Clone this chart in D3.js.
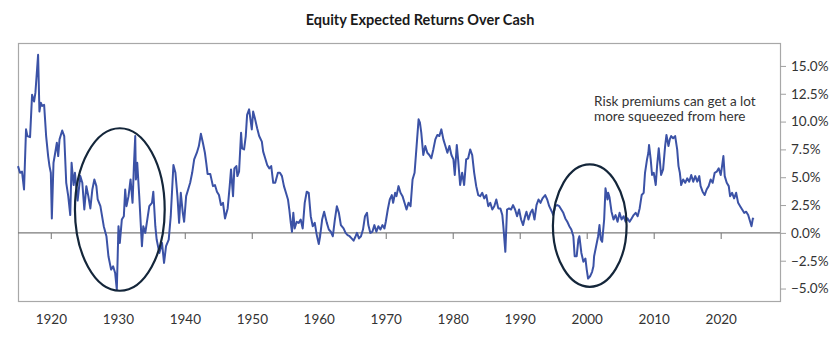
<!DOCTYPE html>
<html>
<head>
<meta charset="utf-8">
<script src="https://cdn.jsdelivr.net/npm/d3@7"></script>
<style>
  html, body { margin: 0; padding: 0; background: #fff; }
  svg { display: block; }
  .axis text { font-family: Lato, "Open Sans", sans-serif; font-size: 13.5px; fill: #333; }
</style>
</head>
<body>
<svg id="chart" width="840" height="338"></svg>
<script>
// Equity expected return over cash, % (decimal year, value)
const years = [
  1915.1,1915.4,1915.7,1916.0,1916.3,1916.5,1916.9,1917.2,1917.5,1917.7,1918.1,1918.3,1918.5,1918.7,1919.0,1919.3,1919.6,1919.8,
  1920.0,1920.15,1920.4,1920.6,1920.9,1921.1,1921.3,1921.7,1922.0,1922.3,1922.6,1922.9,1923.1,1923.4,1923.6,1924.0,1924.4,1924.7,
  1925.0,1925.3,1925.6,1925.9,1926.2,1926.5,1926.8,1927.0,1927.4,1927.9,1928.3,1928.6,1929.0,1929.3,1929.6,1929.85,
  1930.1,1930.3,1930.6,1930.9,1931.1,1931.3,1931.6,1931.9,1932.2,1932.4,1932.6,1932.7,1932.9,1933.2,1933.6,1933.8,1934.1,1934.4,1934.7,
  1935.1,1935.3,1935.6,1935.8,1936.2,1936.6,1936.9,1937.2,1937.6,1937.9,1938.3,1938.6,1938.9,1939.15,1939.4,1939.7,1939.9,
  1940.2,1940.5,1940.8,1941.1,1941.4,1941.8,1942.1,1942.4,1942.7,1943.0,1943.2,1943.4,1943.8,1944.2,1944.5,1944.8,
  1945.1,1945.4,1945.7,1946.0,1946.4,1946.7,1946.9,1947.2,1947.4,1947.7,1947.85,1948.1,1948.4,1948.55,1948.85,1949.1,1949.3,1949.6,
  1950.0,1950.2,1950.5,1950.8,1951.1,1951.5,1951.7,1952.0,1952.3,1952.6,1952.9,1953.2,1953.5,1953.9,1954.2,1954.5,1954.8,
  1955.1,1955.4,1955.6,1955.8,1956.0,1956.2,1956.4,1956.7,1957.0,1957.3,1957.6,1957.9,1958.2,1958.5,1958.8,1959.1,1959.4,1959.7,
  1960.0,1960.2,1960.5,1960.8,1961.2,1961.5,1961.8,1962.1,1962.4,1962.7,1963.0,1963.3,1963.7,1964.0,1964.3,1964.6,1964.9,
  1965.2,1965.5,1965.7,1966.0,1966.3,1966.6,1966.9,1967.2,1967.4,1967.7,1968.0,1968.3,1968.6,1968.9,1969.2,1969.5,1969.8,
  1970.0,1970.3,1970.6,1970.9,1971.1,1971.4,1971.6,1971.9,1972.2,1972.5,1972.8,1973.1,1973.4,1973.7,1974.0,1974.3,1974.6,1974.9,
  1975.1,1975.3,1975.6,1975.9,1976.2,1976.5,1976.8,1977.1,1977.4,1977.7,1978.0,1978.3,1978.6,1978.9,1979.2,1979.5,1979.8,
  1980.1,1980.3,1980.6,1980.8,1981.1,1981.4,1981.7,1982.0,1982.3,1982.6,1982.9,1983.2,1983.5,1983.8,1984.1,1984.4,1984.7,
  1985.0,1985.3,1985.6,1985.9,1986.2,1986.5,1986.8,1987.1,1987.4,1987.55,1987.85,1988.1,1988.4,1988.7,1989.0,1989.3,1989.6,1989.9,
  1990.2,1990.5,1990.8,1991.0,1991.3,1991.6,1991.9,1992.2,1992.5,1992.8,1993.1,1993.4,1993.8,1994.1,1994.4,1994.8,
  1995.0,1995.3,1995.6,1995.9,1996.2,1996.5,1996.8,1997.1,1997.4,1997.7,1998.0,1998.2,1998.5,1998.75,1998.9,1999.2,1999.5,1999.8,
  2000.0,2000.2,2000.5,2000.8,2001.0,2001.1,2001.4,2001.7,2001.9,2002.1,2002.3,2002.6,2002.8,2003.1,2003.2,2003.4,2003.7,2004.0,2004.3,2004.6,2004.9,
  2005.2,2005.5,2005.8,2006.1,2006.4,2006.7,2007.0,2007.3,2007.6,2007.9,2008.2,2008.5,2008.7,2009.0,2009.2,2009.3,2009.55,2009.75,
  2010.0,2010.3,2010.5,2010.75,2010.9,2011.1,2011.4,2011.7,2011.9,2012.2,2012.4,2012.6,2012.9,2013.2,2013.5,2013.7,2013.9,2014.1,2014.4,2014.7,
  2015.0,2015.3,2015.6,2015.9,2016.2,2016.5,2016.8,2017.0,2017.3,2017.6,2017.9,2018.2,2018.5,2018.8,2019.1,2019.4,2019.7,
  2020.0,2020.2,2020.4,2020.6,2020.9,2021.2,2021.4,2021.7,2022.0,2022.3,2022.6,2022.9,2023.2,2023.5,2023.8,2024.1,2024.4,2024.6,2024.8,2024.9
];
const premium = [
  6.0,5.4,5.5,3.9,9.3,8.7,8.6,12.4,11.8,12.6,16.0,10.9,11.7,11.4,11.5,8.7,6.9,6.0,
  5.4,1.3,6.3,7.0,8.1,6.9,8.4,9.2,8.7,4.5,3.3,1.6,6.3,4.3,5.4,2.9,5.1,4.5,
  2.1,4.2,3.3,2.2,3.9,4.8,4.2,3.0,2.4,0.6,-0.3,-2.1,-3.3,-3.0,-3.6,-5.1,
  0.6,-0.9,1.2,1.5,3.9,2.4,3.3,4.8,2.7,6.0,8.7,4.8,6.3,3.3,-1.2,0.6,0.0,1.2,2.4,
  2.7,3.7,0.6,-0.6,-1.8,-0.9,-2.7,-1.2,-0.6,1.5,6.1,5.4,3.3,0.9,3.6,1.8,1.0,
  3.3,3.9,4.5,5.4,6.6,7.2,7.8,8.9,8.1,7.2,6.3,5.3,5.3,4.2,4.3,3.7,
  3.4,2.5,2.7,1.3,2.2,4.2,5.7,3.3,5.8,6.0,5.1,5.5,9.0,7.6,7.5,8.7,10.6,11.1,
  9.3,10.9,10.2,9.4,8.7,8.2,7.3,6.7,6.1,5.8,6.0,4.5,4.5,5.4,5.4,5.1,4.2,
  3.6,3.0,2.1,1.0,0.1,1.8,0.4,1.0,0.9,1.2,0.4,2.7,3.7,3.6,1.5,0.6,0.9,-0.2,
  -1.0,-0.3,1.2,1.9,0.9,0.3,0.1,-0.3,1.2,2.4,1.8,0.7,0.4,0.0,-0.2,-0.3,-0.5,
  -0.7,-0.3,0.0,-0.5,-0.3,0.3,1.5,1.8,0.7,0.0,0.1,0.7,0.1,0.6,0.3,0.7,0.4,
  1.0,2.1,3.0,3.4,2.7,3.6,3.3,4.2,3.6,3.3,2.7,2.1,2.7,2.4,4.8,5.4,7.8,10.2,
  9.9,9.0,7.0,7.8,7.2,7.0,6.7,7.5,8.4,8.8,8.7,9.3,8.4,7.8,7.2,7.8,7.0,
  6.6,5.2,7.9,6.6,4.3,5.4,4.3,6.6,6.7,7.5,7.0,5.4,4.2,3.4,3.3,3.6,3.1,
  3.4,2.4,2.7,2.1,2.4,3.0,2.2,2.2,1.6,0.6,-1.7,2.1,2.2,2.1,2.5,2.1,1.5,2.1,
  1.2,0.7,1.5,1.9,1.2,1.8,2.1,1.2,2.5,3.0,2.7,3.1,3.4,3.0,2.4,1.9,
  1.6,2.4,2.5,2.4,2.1,1.8,1.3,1.0,0.6,0.3,-0.3,-2.1,-2.1,-0.6,-0.3,-1.8,-2.6,-2.3,
  -3.3,-4.1,-3.9,-3.5,-3.0,-2.1,-1.2,-0.3,0.7,-0.6,-0.8,1.2,4.0,3.0,3.6,3.2,1.9,1.2,1.6,1.0,1.8,
  1.2,1.5,1.0,1.3,1.0,1.3,1.6,1.8,1.5,2.2,3.4,3.6,5.4,6.6,7.2,7.9,6.6,5.2,
  5.4,4.3,6.0,7.6,6.6,5.2,5.7,7.8,8.8,7.8,8.4,8.7,8.5,8.7,7.5,6.0,5.4,4.3,4.8,4.5,
  4.9,4.6,5.2,4.6,5.1,4.6,5.1,4.2,3.7,3.4,3.9,4.2,4.8,4.5,5.4,5.5,5.8,
  5.2,6.0,6.9,5.1,4.5,4.2,3.3,3.6,3.1,3.6,2.7,2.4,2.1,1.8,1.9,1.6,1.0,0.6,1.3,1.2
];
const decadeTicks = [1920, 1930, 1940, 1950, 1960, 1970, 1980, 1990, 2000, 2010, 2020];
const pctTicks = [-5, -2.5, 0, 2.5, 5, 7.5, 10, 12.5, 15];

// Highlighted episodes: centre (year, %) and half extents (years, %)
const episodeYears = [1930.3, 2000.45];
const episodeValues = [2.1, 0.65];
const episodeSpanYears = [6.7, 5.5];
const episodeSpanValues = [7.3, 5.5];

const noteLines = ["Risk premiums can get a lot", "more squeezed from here"];
const noteAnchor = { year: 2001.1, value: 11.4 };

const svg = d3.select("#chart");
const plot = { left: 18, right: 780, top: 43, bottom: 301 };

const x = d3.scaleLinear().domain([1915.1, 2028.85]).range([plot.left, plot.right]);
const y = d3.scaleLinear().domain([-6.12, 17.06]).range([plot.bottom, plot.top]);

// title
svg.append("text")
  .attr("x", 420).attr("y", 25)
  .attr("text-anchor", "middle")
  .style("font-family", "Lato, 'Open Sans', sans-serif")
  .style("font-weight", 700)
  .style("font-size", "14.5px")
  .style("fill", "#1a1a1a")
  .text("Equity Expected Returns Over Cash");

// plot frame
svg.append("rect")
  .attr("x", plot.left + 0.5).attr("y", plot.top + 0.5)
  .attr("width", plot.right - plot.left).attr("height", plot.bottom - plot.top)
  .attr("fill", "none").attr("stroke", "#a8a8a8").attr("stroke-width", 1.2);

// right value axis
const yAxis = svg.append("g").attr("class", "axis")
  .attr("transform", `translate(${plot.right},0)`)
  .call(d3.axisRight(y).tickValues(pctTicks)
    .tickFormat(d => d3.format(".1%")(d / 100)).tickSize(6).tickPadding(5));
yAxis.select(".domain").remove();
yAxis.selectAll(".tick line").attr("stroke", "#a0a0a0");

// zero baseline with decade ticks hanging below it
const zeroAxis = svg.append("g")
  .attr("transform", `translate(0,${y(0)})`)
  .call(d3.axisBottom(x).tickValues(decadeTicks).tickFormat("").tickSize(6).tickSizeOuter(0));
zeroAxis.select(".domain").remove();
zeroAxis.selectAll(".tick line").attr("stroke", "#8a8a8a").attr("stroke-width", 1.2);

svg.append("line")
  .attr("x1", plot.left).attr("x2", plot.right)
  .attr("y1", y(0)).attr("y2", y(0))
  .attr("stroke", "#7a7a7a").attr("stroke-width", 1.4);

// decade labels along the bottom
const xAxis = svg.append("g").attr("class", "axis")
  .attr("transform", `translate(0,${plot.bottom})`)
  .call(d3.axisBottom(x).tickValues(decadeTicks).tickFormat(d3.format("d")).tickSize(0).tickPadding(13));
xAxis.select(".domain").remove();

// series line
const series = years.map((t, i) => ({ t, v: premium[i] }));
const line = d3.line().x(d => x(d.t)).y(d => y(d.v));
svg.append("path")
  .datum(series)
  .attr("d", line)
  .attr("fill", "none")
  .attr("stroke", "#3b52a6")
  .attr("stroke-width", 2)
  .attr("stroke-linejoin", "round");

// episode ellipses
episodeYears.forEach((t, i) => {
  const cx = x(t), cy = y(episodeValues[i]);
  svg.append("ellipse")
    .attr("cx", cx).attr("cy", cy)
    .attr("rx", x(t + episodeSpanYears[i]) - cx)
    .attr("ry", cy - y(episodeValues[i] + episodeSpanValues[i]))
    .attr("fill", "none")
    .attr("stroke", "#14263a")
    .attr("stroke-width", 2.2);
});

// annotation
const note = svg.append("text")
  .attr("x", x(noteAnchor.year)).attr("y", y(noteAnchor.value))
  .style("font-family", "Lato, 'Open Sans', sans-serif")
  .style("font-size", "13.5px")
  .style("fill", "#333");
note.selectAll("tspan").data(noteLines).join("tspan")
  .attr("x", x(noteAnchor.year))
  .attr("dy", (d, i) => i === 0 ? 0 : 15.5)
  .text(d => d);
</script>
</body>
</html>
